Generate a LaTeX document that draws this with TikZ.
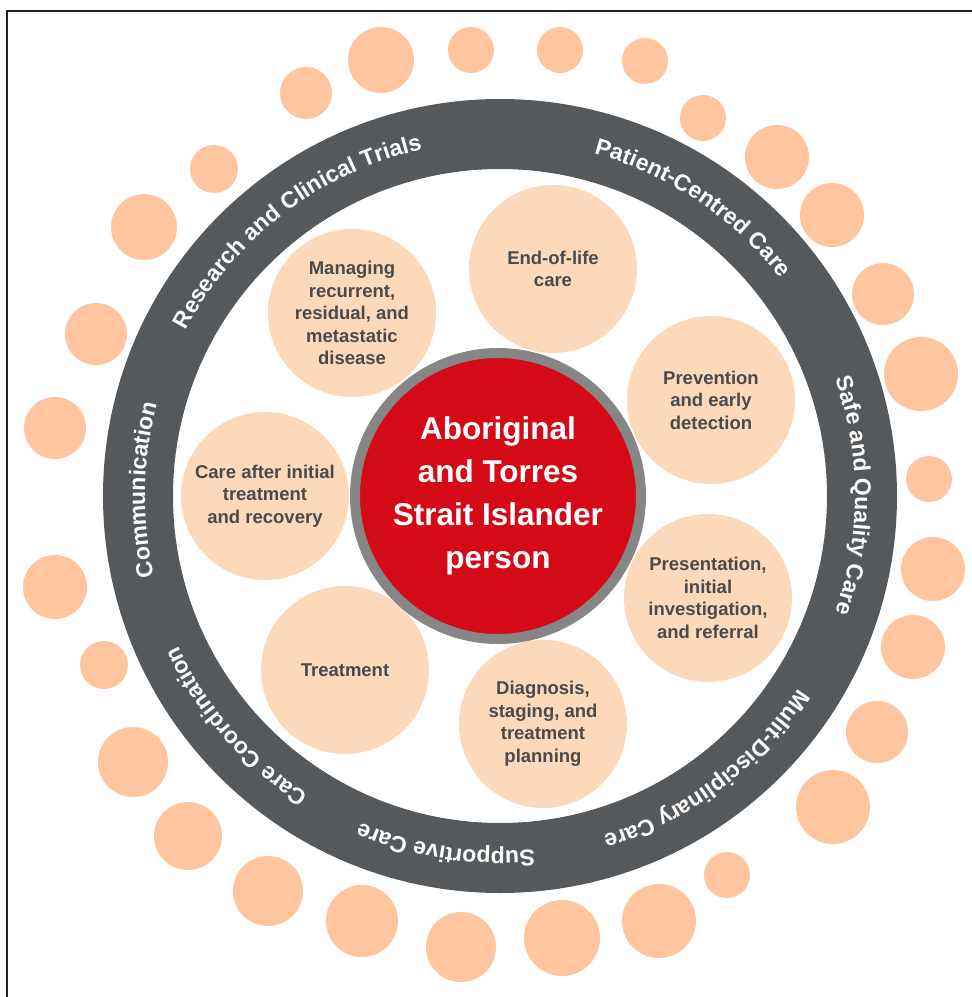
\documentclass[tikz,border=0pt]{standalone}
\usepackage{fontspec}
\setmainfont{Liberation Sans}
\usepackage{tikz}
\usetikzlibrary{positioning}
\usetikzlibrary{calc}
\usetikzlibrary{decorations.text}
\definecolor{ringgrey}{HTML}{56595C}
\definecolor{personred}{HTML}{D40A16}
\definecolor{persongrey}{HTML}{868686}
\definecolor{stagefill}{HTML}{FDD9BB}
\definecolor{stagetext}{HTML}{4A4A4C}
\definecolor{dotfill}{HTML}{FEC59E}
\definecolor{framegrey}{HTML}{222222}
\newcommand{\ringfont}{\bfseries\fontsize{23}{23}\selectfont}
\tikzset{stage/.style={circle, fill=stagefill, minimum size=168pt, inner sep=0pt, align=center, text=stagetext, font=\bfseries\fontsize{18.5}{22.5}\selectfont}}
\tikzset{person/.style={circle, fill=personred, draw=persongrey, line width=10pt, minimum size=286pt, inner sep=0pt, align=center, text=white, font=\bfseries\fontsize{31.5}{43}\selectfont}}
\tikzset{dot/.style={circle, fill=dotfill, inner sep=0pt}}
\tikzset{ringlabel/.style={decorate, decoration={text along path, text color=white, text align=center, text={|\ringfont|#1}}}}
\newcommand{\ringtext}[2]{\path[ringlabel={#2}] (#1+45:355) arc[start angle=#1+45, end angle=#1-45, radius=355];}

\begin{document}
\begin{tikzpicture}[x=1pt, y=1pt]
\useasboundingbox (-500,-501) rectangle (472,496);

% frame
\coordinate (frameBL) at (-493,-501);
\coordinate (frameTL) at (-493,485);
\coordinate (frameTR) at (472,485);
\draw[framegrey, line width=1.5pt] (frameBL) -- (frameTL) -- (frameTR);

% outer dots
\foreach \x/\y/\r [count=\i] in {-119/436/33, -29/446/23, 60/446/23, 145/435/23, 203/378/23,
  277/339/32, 332/281/32, 383/202/31, 421/122/37, 429/17/23, 433/-73/32, 413/-151/32,
  377/-236/31, 333/-311/37, 227/-379/23, 159/-425/37, 62/-442/38, -39/-451/35,
  -138/-425/36, -232/-395/35, -312/-340/34, -367/-266/35, -396/-169/24, -445/-91/32,
  -445/68/31, -404/162/31, -356/269/33, -286/327/24, -194/403/26}
  \node[dot, minimum size={(2*\r)*1pt}] (dot\i) at (\x,\y) {};

% ring
\node[circle, draw=ringgrey, line width=70pt, minimum size=724pt, inner sep=0pt] (ring) at (0,0) {};
\ringtext{127.4}{Research and Clinical Trials}
\ringtext{56.2}{Patient-Centred Care}
\ringtext{0.1}{Safe and Quality Care}
\ringtext{-53}{Mulit-Disciplinary Care}
\ringtext{-98.8}{Supportive Care}
\ringtext{-138.9}{Care Coordination}
\ringtext{179}{Communication}

% stages
\node[stage] (recovery) at (-235,0) {Care after initial\\treatment\\and recovery};
\node[stage] (recurrent) at (-148,183) {Managing\\recurrent,\\residual, and\\metastatic\\disease};
\node[stage] (endoflife) at (53,227) {End-of-life\\care};
\node[stage] (prevention) at (211,96) {Prevention\\and early\\detection};
\node[stage] (presentation) at (208,-102) {Presentation,\\initial\\investigation,\\and referral};
\node[stage] (diagnosis) at (43,-228) {Diagnosis,\\staging, and\\treatment\\planning};
\node[stage] (treatment) at (-155,-174) {Treatment};

% centre
\node[person] (person) at (-2,0) {Aboriginal\\and Torres\\Strait Islander\\person};
\end{tikzpicture}
\end{document}
